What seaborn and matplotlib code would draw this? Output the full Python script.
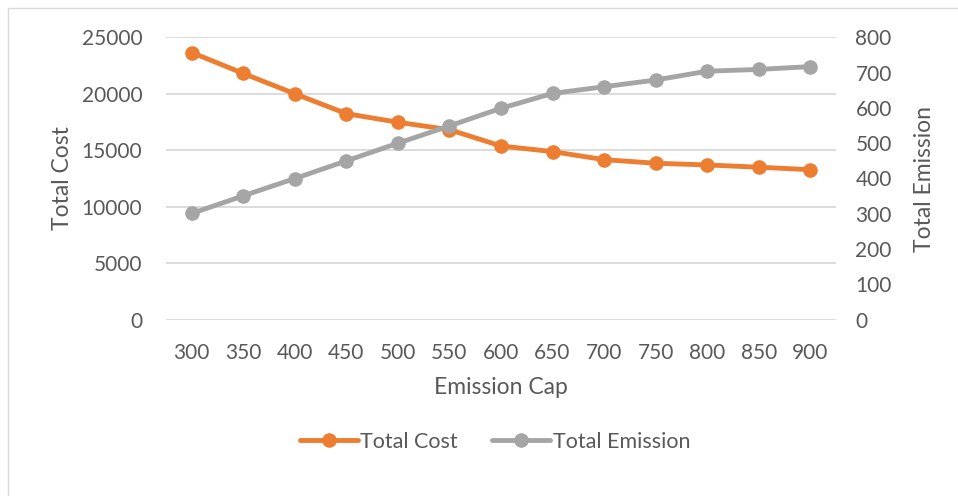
import matplotlib
matplotlib.use("Agg")
import matplotlib.pyplot as plt
from matplotlib.patches import Rectangle
import seaborn as sns
import pandas as pd

emission_cap = [300, 350, 400, 450, 500, 550, 600, 650, 700, 750, 800, 850, 900]
total_cost = [23650, 21800, 20000, 18240, 17480, 16820, 15380, 14880, 14170, 13850, 13700, 13500, 13280]
total_emission = [301, 351, 400, 450, 500, 549, 599, 641, 660, 679, 704, 709, 717]
cost_ticks = [0, 5000, 10000, 15000, 20000, 25000]
emission_ticks = [0, 100, 200, 300, 400, 500, 600, 700, 800]

df = pd.DataFrame({"Emission Cap": emission_cap,
                   "Total Cost": total_cost,
                   "Total Emission": total_emission})

ORANGE = "#ED7D31"
GREY = "#A5A5A5"
TEXT = "#595959"
GRID = "#D9D9D9"

sns.set_theme(style="white")
plt.rcParams["font.family"] = ["Lato", "DejaVu Sans"]
plt.rcParams["text.color"] = TEXT
plt.rcParams["axes.labelcolor"] = TEXT
plt.rcParams["xtick.color"] = TEXT
plt.rcParams["ytick.color"] = TEXT

W, H = 958, 496
fig = plt.figure(figsize=(W / 100, H / 100), dpi=100)

# outer frame of the chart area
fig.patches.append(Rectangle((8 / W, -0.05), 1.2, 1 - 8 / H + 0.05,
                             transform=fig.transFigure, fill=False,
                             edgecolor="#D9D9D9", linewidth=1.0))

left, right, top, bottom = 166, 836, 37.3, 319.7
ax = fig.add_axes([left / W, 1 - bottom / H, (right - left) / W, (bottom - top) / H])
ax2 = ax.twinx()

line_kw = dict(linewidth=3.5, marker="o", markersize=10.5, markeredgewidth=0)
sns.lineplot(data=df, x="Emission Cap", y="Total Cost", ax=ax, color=ORANGE,
             zorder=3, **line_kw)
sns.lineplot(data=df, x="Emission Cap", y="Total Emission", ax=ax2, color=GREY,
             zorder=3, **line_kw)

ax.set_xlim(275, 925)
ax.set_ylim(0, 25000)
ax2.set_ylim(0, 800)
ax.set_xticks(emission_cap)
ax.set_xticklabels([str(v) for v in emission_cap])
ax.set_yticks(cost_ticks)
ax.set_yticklabels([str(v) for v in cost_ticks])
ax2.set_yticks(emission_ticks)
ax2.set_yticklabels([str(v) for v in emission_ticks])

for a in (ax, ax2):
    for s in a.spines.values():
        s.set_visible(False)
    a.tick_params(length=0, labelsize=15)

ax.yaxis.grid(True, color=GRID, linewidth=1.3)
ax.set_axisbelow(True)
ax.tick_params(axis="y", pad=17)
ax2.tick_params(axis="y", pad=14)
ax.tick_params(axis="x", pad=17)

ax.set_xlabel("Emission Cap", fontsize=16.5, labelpad=10)
ax.set_ylabel("Total Cost", fontsize=16.5, labelpad=6)
ax2.set_ylabel("Total Emission", fontsize=16.5, labelpad=16)

# keep the grey series drawn above the grid of the primary axis
ax.set_zorder(ax2.get_zorder() - 1)
ax.patch.set_visible(False)

handles = [ax.get_lines()[0], ax2.get_lines()[0]]
fig.legend(handles, ["Total Cost", "Total Emission"], loc="center",
           bbox_to_anchor=(495 / W, 1 - 442 / H), ncol=2, frameon=False,
           fontsize=15.5, handlelength=2.7, handletextpad=0.1, columnspacing=1.6)

fig.savefig("out.png", dpi=100, facecolor="white")
